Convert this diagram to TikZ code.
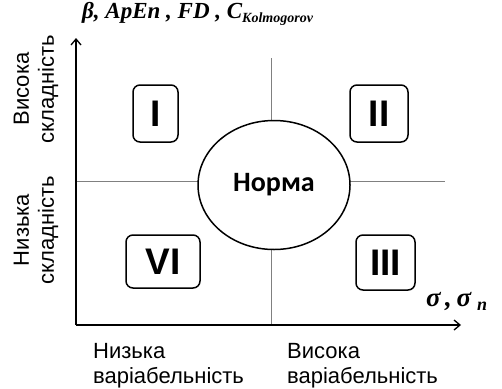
\documentclass[tikz,border=0pt]{standalone}
\usepackage{fontspec}
\setmainfont{Liberation Sans}
\newfontfamily\normafont{Carlito}
\newfontfamily\timesfont{Liberation Serif}
\usetikzlibrary{positioning, arrows.meta, shapes.geometric}
\tikzset{
    axis/.style={
        line width=1.3pt,
        -{Straight Barb[length=6pt,width=10pt,line width=1.3pt]}
    },
    divider/.style={
        gray,
        line width=0.8pt
    },
    zone/.style={
        draw,
        line width=1.5pt,
        rounded corners=7pt,
        fill=white,
        inner sep=0pt,
        font=\fontsize{37}{37}\selectfont\bfseries
    },
    norma/.style={
        ellipse,
        draw,
        line width=1.5pt,
        fill=white,
        inner sep=0pt,
        minimum width=152pt,
        minimum height=129pt,
        font=\normafont\fontsize{28}{28}\selectfont\bfseries
    },
    axislabel/.style={
        inner sep=0pt,
        font=\fontsize{22}{25}\selectfont
    },
    varlabel/.style={
        inner sep=0pt,
        font=\timesfont\bfseries\itshape
    }
}

\begin{document}
\begin{tikzpicture}[x=1pt, y=-1pt]
                \useasboundingbox (0,0) rectangle (502,388);
                % axes
                \coordinate (O) at (76,325);
                \coordinate (Ytop) at (76,38);
                \coordinate (Xend) at (461,325);
                \coordinate (Vtop) at (271,58);
                \coordinate (Vbot) at (271,325);
                \coordinate (Hleft) at (76,181);
                \coordinate (Hright) at (445,181);
                \draw[divider] (Vtop) -- (Vbot);
                \draw[divider] (Hleft) -- (Hright);
                \draw[axis] (O) -- (Ytop);
                \draw[axis] (O) -- (Xend);

                % zones
                \node[norma] (N) at (274,185) {Норма};
                \node[zone, minimum width=45pt, minimum height=57pt] (I) at (155.5,113.5) {I};
                \node[zone, minimum width=58pt, minimum height=57pt] (II) at (379,113.5) {II};
                \node[zone, minimum width=74pt, minimum height=53pt] (VI) at (163,261.5) {VI};
                \node[zone, minimum width=59pt, minimum height=55pt] (III) at (385.5,262.5) {III};

                % axis labels
                \node[varlabel, anchor=base west, font=\timesfont\bfseries\itshape\fontsize{23}{23}\selectfont] (Ylab) at (82,18)
                    {β, ApEn , FD , C\raisebox{-4pt}{\fontsize{14}{14}\selectfont Kolmogorov}};
                \node[varlabel, anchor=base west, font=\timesfont\bfseries\itshape\fontsize{27}{27}\selectfont] (Xlab) at (426,306)
                    {σ\,,\,σ\hspace{6pt}\raisebox{-4pt}{\fontsize{18}{18}\selectfont n}};
                \node[axislabel, align=left, anchor=north west] (LowVar) at (93,343) {Низька\\варіабельність};
                \node[axislabel, align=left, anchor=north west] (HighVar) at (287,343) {Висока\\варіабельність};
                \node[axislabel, align=center, rotate=90] (HighCx) at (36,89) {Висока\\складність};
                \node[axislabel, align=center, rotate=90] (LowCx) at (36,230) {Низька\\складність};
\end{tikzpicture}
\end{document}
